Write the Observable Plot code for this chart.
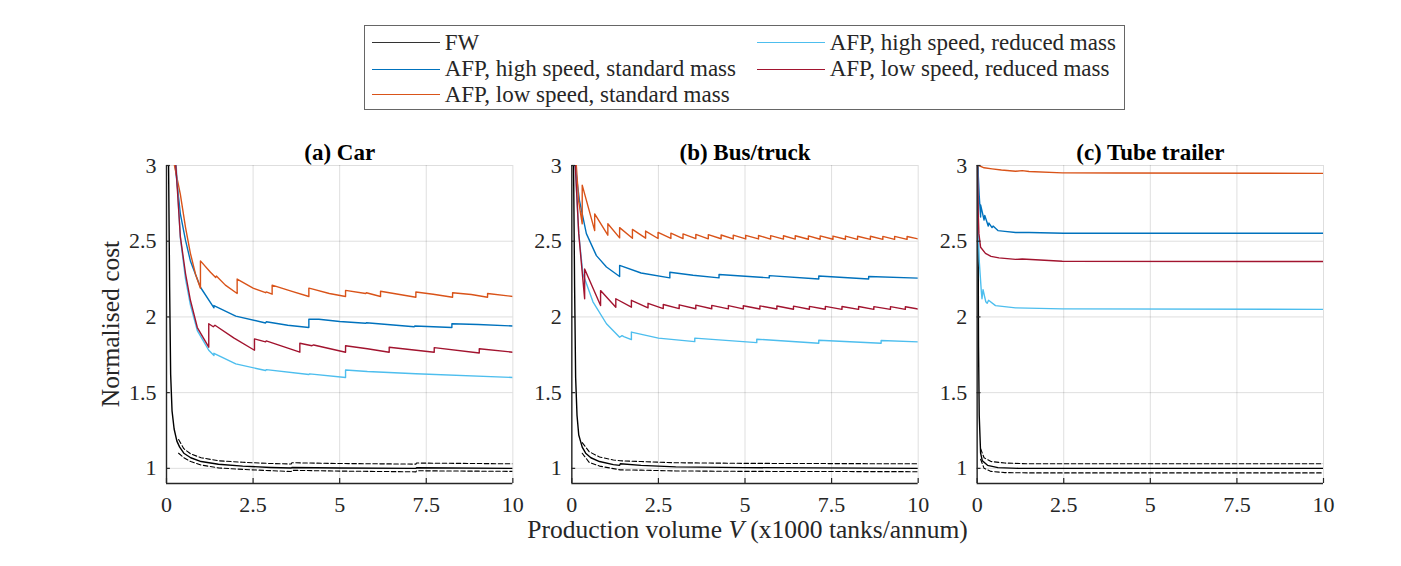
<!DOCTYPE html>
<html><head><meta charset="utf-8">
<script src="https://cdn.jsdelivr.net/npm/d3@7"></script>
<script src="https://cdn.jsdelivr.net/npm/@observablehq/plot@0.6"></script>
<style>
body{margin:0;background:#fff;}
#wrap{position:relative;width:1401px;height:566px;font-family:"Liberation Serif","Times New Roman",serif;color:#262626;}
#wrap svg{position:absolute;left:0;top:0;}
#legend{position:absolute;left:364px;top:25px;width:761px;height:85px;border:1.3px solid #666;box-sizing:border-box;background:#fff;font-size:23px;font-family:"Liberation Serif","Times New Roman",serif;}
.item{position:absolute;display:flex;align-items:center;height:26px;white-space:nowrap;}
.item .sw{width:68px;height:0;border-top:1.4px solid;margin-right:5px;}
#ylab{position:absolute;left:111px;top:323.5px;transform:translate(-50%,-50%) rotate(-90deg);font-size:25.5px;line-height:1;white-space:nowrap;}
#xlab{position:absolute;left:747.5px;top:530px;transform:translate(-50%,-50%);font-size:25.5px;line-height:1;white-space:nowrap;}
</style>
</head><body>
<div id="wrap"></div>
<script>
// ---- categories / series ----
const panels = ["(a) Car", "(b) Bus/truck", "(c) Tube trailer"];
const seriesNames = ["FW", "AFP, high speed, standard mass", "AFP, low speed, standard mass", "AFP, high speed, reduced mass", "AFP, low speed, reduced mass"];
const seriesColors = ["#000000", "#0072BD", "#D95319", "#4DBEEE", "#A2142F"];
const xTicks = [0, 2.5, 5, 7.5, 10];
const yTicks = [1, 1.5, 2, 2.5, 3];

// ---- (a) Car : [V (x1000), normalised cost] ----
const carFW = [[0.06,3],[0.09,2.2],[0.12,1.62],[0.16,1.38],[0.22,1.26],[0.3,1.18],[0.38,1.14],[0.5,1.10],[0.7,1.07],[1.0,1.045],[1.5,1.027],[2.2,1.015],[3.0,1.006],[3.6,1.002],[3.62,1.006],[5,1.002],[7.2,1.0],[7.22,1.004],[10,1.0]];
const carFWUpper = [[0.35,1.19],[0.5,1.13],[0.7,1.095],[1.0,1.07],[1.5,1.05],[2.2,1.04],[3.0,1.032],[3.6,1.029],[3.62,1.037],[5,1.032],[7.2,1.028],[7.22,1.035],[10,1.03]];
const carFWLower = [[0.35,1.10],[0.5,1.07],[0.7,1.045],[1.0,1.022],[1.5,1.003],[2.2,0.993],[3.0,0.985],[3.6,0.979],[3.62,0.987],[5,0.982],[7.2,0.977],[7.22,0.984],[10,0.98]];
const carHighStd = [[0.25,3],[0.4,2.68],[0.55,2.505],[0.69,2.37],[0.98,2.196],[1.37,2.06],[1.37,2.075],[2.0,2.005],[2.86,1.96],[2.88,1.968],[3.5,1.945],[4.11,1.93],[4.11,1.985],[4.4,1.985],[5.0,1.97],[5.75,1.958],[5.77,1.962],[7.15,1.935],[7.17,1.94],[8.24,1.93],[8.24,1.955],[9.0,1.95],[10,1.94]];
const carLowStd = [[0.23,3],[0.4,2.81],[0.55,2.59],[0.69,2.42],[0.84,2.28],[0.98,2.19],[0.98,2.37],[1.27,2.295],[1.42,2.26],[1.44,2.27],[1.7,2.21],[2.04,2.155],[2.04,2.25],[2.5,2.19],[2.86,2.16],[2.88,2.165],[3.05,2.15],[3.05,2.21],[3.6,2.17],[4.11,2.135],[4.11,2.19],[4.2,2.185],[4.7,2.155],[5.17,2.135],[5.17,2.175],[5.75,2.155],[5.77,2.16],[6.18,2.135],[6.18,2.17],[7.2,2.13],[7.2,2.165],[7.7,2.15],[8.26,2.13],[8.26,2.16],[8.8,2.148],[9.27,2.13],[9.27,2.155],[10,2.135]];
const carHighRed = [[0.28,3],[0.4,2.52],[0.55,2.25],[0.69,2.08],[0.89,1.91],[1.22,1.78],[1.37,1.745],[1.37,1.76],[2.0,1.69],[2.86,1.646],[2.88,1.652],[4.11,1.62],[4.13,1.624],[5.17,1.60],[5.17,1.65],[5.8,1.64],[7.2,1.625],[10,1.60]];
const carLowRed = [[0.27,3],[0.4,2.53],[0.55,2.285],[0.69,2.11],[0.89,1.93],[1.22,1.80],[1.22,1.955],[1.35,1.935],[1.4,1.945],[1.94,1.862],[2.54,1.78],[2.54,1.855],[2.86,1.835],[2.88,1.842],[3.85,1.767],[3.85,1.826],[4.2,1.81],[4.25,1.815],[5.17,1.767],[5.17,1.81],[5.8,1.79],[6.43,1.767],[6.43,1.80],[7.73,1.767],[7.73,1.797],[9.03,1.762],[9.03,1.79],[10,1.767]];

// ---- (b) Bus/truck ----
const busFW = [[0.05,3],[0.08,2.2],[0.11,1.6],[0.15,1.35],[0.2,1.22],[0.3,1.14],[0.4,1.1],[0.55,1.07],[0.8,1.045],[1.2,1.025],[1.38,1.02],[1.4,1.03],[2,1.02],[3,1.01],[5,1.005],[10,1.0]];
const busFWUpper = [[0.3,1.17],[0.5,1.11],[0.8,1.075],[1.2,1.055],[1.4,1.05],[2,1.045],[3,1.037],[5,1.033],[10,1.03]];
const busFWLower = [[0.3,1.1],[0.5,1.04],[0.8,1.015],[1.2,0.998],[1.4,0.99],[2,0.988],[3,0.983],[5,0.98],[10,0.978]];
const busHighStd = [[0.1,3],[0.16,2.88],[0.22,2.77],[0.42,2.55],[0.71,2.405],[1.0,2.33],[1.38,2.267],[1.38,2.34],[2.0,2.29],[2.83,2.258],[2.83,2.295],[3.5,2.275],[4.25,2.258],[4.25,2.28],[5.7,2.258],[5.7,2.273],[7.13,2.25],[7.13,2.27],[8.57,2.25],[8.57,2.267],[10,2.256]];
const busLowStd = [[0.13,3],[0.2,2.76],[0.30,2.615],[0.30,2.87],[0.66,2.57],[0.66,2.68],[1.04,2.54],[1.04,2.615],[1.38,2.522],[1.38,2.59],[1.75,2.52],[1.75,2.578],[2.13,2.52],[2.13,2.567],[2.49,2.518],[2.49,2.558],[2.86,2.518],[2.86,2.553],[3.21,2.517],[3.21,2.548],[3.58,2.517],[3.58,2.545],[3.94,2.516],[3.94,2.543],[4.31,2.516],[4.31,2.541],[4.66,2.515],[4.66,2.54],[5.02,2.515],[5.02,2.539],[5.39,2.515],[5.39,2.538],[5.74,2.514],[5.74,2.537],[6.11,2.514],[6.11,2.536],[6.45,2.514],[6.45,2.536],[6.83,2.513],[6.83,2.535],[7.17,2.513],[7.17,2.535],[7.54,2.513],[7.54,2.534],[7.90,2.513],[7.90,2.534],[8.25,2.512],[8.25,2.533],[8.62,2.512],[8.62,2.533],[8.98,2.512],[8.98,2.532],[9.32,2.512],[9.32,2.532],[9.68,2.512],[9.68,2.531],[10,2.515]];
const busHighRed = [[0.1,3],[0.2,2.55],[0.32,2.285],[0.61,2.10],[1.0,1.955],[1.38,1.866],[1.45,1.876],[1.5,1.87],[1.72,1.85],[1.72,1.90],[2.5,1.86],[3.55,1.837],[3.55,1.86],[5.34,1.83],[5.34,1.853],[7.13,1.826],[7.13,1.846],[8.93,1.826],[8.93,1.844],[10,1.835]];
const busLowRed = [[0.1,3],[0.2,2.55],[0.27,2.37],[0.37,2.12],[0.37,2.317],[0.83,2.075],[0.83,2.174],[1.27,2.064],[1.27,2.12],[1.72,2.064],[1.72,2.11],[2.2,2.06],[2.2,2.09],[2.64,2.055],[2.64,2.082],[3.10,2.055],[3.10,2.08],[3.58,2.054],[3.58,2.078],[4.04,2.054],[4.04,2.076],[4.52,2.053],[4.52,2.075],[4.95,2.053],[4.95,2.074],[5.43,2.052],[5.43,2.073],[5.92,2.052],[5.92,2.072],[6.40,2.051],[6.40,2.071],[6.86,2.051],[6.86,2.07],[7.32,2.051],[7.32,2.07],[7.80,2.05],[7.80,2.069],[8.28,2.05],[8.28,2.069],[8.72,2.05],[8.72,2.068],[9.20,2.05],[9.20,2.068],[9.63,2.05],[9.63,2.067],[10,2.052]];

// ---- (c) Tube trailer ----
const tubeFW = [[0.02,3],[0.04,1.8],[0.06,1.35],[0.1,1.1],[0.15,1.05],[0.3,1.02],[0.6,1.005],[1.2,1.0],[10,1.0]];
const tubeFWUpper = [[0.1,1.13],[0.2,1.07],[0.4,1.045],[0.8,1.035],[1.5,1.03],[10,1.03]];
const tubeFWLower = [[0.1,1.06],[0.2,1.0],[0.4,0.98],[0.8,0.972],[1.5,0.97],[10,0.97]];
const tubeHighStd = [[0.02,3],[0.06,2.8],[0.1,2.66],[0.1,2.74],[0.2,2.64],[0.22,2.67],[0.32,2.6],[0.34,2.62],[0.43,2.59],[0.46,2.6],[0.6,2.57],[0.8,2.565],[1.11,2.558],[1.5,2.558],[2.5,2.553],[10,2.553]];
const tubeLowStd = [[0.05,3],[0.2,2.985],[0.43,2.978],[0.7,2.97],[1.11,2.962],[1.3,2.966],[1.5,2.96],[2.46,2.951],[4,2.95],[10,2.948]];
const tubeHighRed = [[0.01,3],[0.03,2.6],[0.06,2.37],[0.12,2.17],[0.14,2.12],[0.17,2.18],[0.25,2.1],[0.29,2.09],[0.33,2.11],[0.53,2.075],[1.11,2.06],[2.46,2.053],[10,2.05]];
const tubeLowRed = [[0.01,3],[0.03,2.7],[0.05,2.55],[0.1,2.46],[0.24,2.42],[0.4,2.40],[0.63,2.39],[1.11,2.38],[1.3,2.383],[2.46,2.368],[10,2.366]];

// ---- build tables ----
const rows = [];
const bounds = [];
function add(panel, series, pts) { for (const [x, y] of pts) rows.push({panel, series, x, y}); }
function addBound(panel, bound, pts) { for (const [x, y] of pts) bounds.push({panel, bound, x, y}); }
add(panels[0], seriesNames[0], carFW); add(panels[0], seriesNames[1], carHighStd); add(panels[0], seriesNames[2], carLowStd); add(panels[0], seriesNames[3], carHighRed); add(panels[0], seriesNames[4], carLowRed);
add(panels[1], seriesNames[0], busFW); add(panels[1], seriesNames[1], busHighStd); add(panels[1], seriesNames[2], busLowStd); add(panels[1], seriesNames[3], busHighRed); add(panels[1], seriesNames[4], busLowRed);
add(panels[2], seriesNames[0], tubeFW); add(panels[2], seriesNames[1], tubeHighStd); add(panels[2], seriesNames[2], tubeLowStd); add(panels[2], seriesNames[3], tubeHighRed); add(panels[2], seriesNames[4], tubeLowRed);
addBound(panels[0], "upper", carFWUpper); addBound(panels[0], "lower", carFWLower);
addBound(panels[1], "upper", busFWUpper); addBound(panels[1], "lower", busFWLower);
addBound(panels[2], "upper", tubeFWUpper); addBound(panels[2], "lower", tubeFWLower);

const axisColor = "#262626";
const chart = Plot.plot({
  width: 1401, height: 566,
  marginLeft: 166, marginRight: 78, marginTop: 165, marginBottom: 83,
  style: {fontFamily: "'Liberation Serif', 'Times New Roman', serif", fontSize: "22px", background: "transparent", color: axisColor, overflow: "visible"},
  fx: {domain: panels, paddingInner: 0.1455, paddingOuter: 0, round: false, axis: null},
  x: {domain: [0, 10]},
  y: {domain: [0.9, 3]},
  color: {domain: seriesNames, range: seriesColors},
  marks: [
    Plot.gridX(xTicks, {stroke: "#000", strokeOpacity: 0.13, strokeWidth: 1}),
    Plot.gridY(yTicks, {stroke: "#000", strokeOpacity: 0.13, strokeWidth: 1}),
    Plot.line(bounds, {x: "x", y: "y", z: "bound", fx: "panel", stroke: "#000", strokeWidth: 1.1, strokeDasharray: "4.5,2.5", clip: true}),
    Plot.line(rows, {x: "x", y: "y", z: "series", stroke: "series", fx: "panel", strokeWidth: 1.4, clip: true}),
    Plot.ruleX([0], {stroke: axisColor, strokeWidth: 1.4}),
    Plot.ruleY([0.9], {stroke: axisColor, strokeWidth: 1.4}),
    Plot.tickX(xTicks, {x: d => d, insetTop: 313, stroke: axisColor, strokeWidth: 1.2}),
    Plot.tickY(yTicks, {y: d => d, insetRight: 342.5, stroke: axisColor, strokeWidth: 1.2}),
    Plot.axisX(xTicks, {tickSize: 0, tickPadding: 13, fontSize: 22, label: null, tickFormat: d => String(d)}),
    Plot.axisY(yTicks, {tickSize: 0, tickPadding: 10, fontSize: 22, label: null, facetAnchor: null, tickFormat: d => String(d)}),
    Plot.text(panels, {fx: d => d, text: d => d, frameAnchor: "top", dy: -6, lineAnchor: "bottom", fontWeight: "bold", fontSize: 23, fill: "#000"})
  ]
});
const wrap = document.getElementById("wrap");
wrap.appendChild(chart);

// legend
const legend = document.createElement("div");
legend.id = "legend";
const legendPos = [[6.7, 3.7], [6.7, 30.2], [6.7, 55.7], [391.7, 3.7], [391.7, 30.2]];
const legendOrder = [0, 1, 2, 3, 4];
legendOrder.forEach((si, i) => {
  const it = document.createElement("div");
  it.className = "item";
  it.style.left = legendPos[i][0] + "px";
  it.style.top = legendPos[i][1] + "px";
  const sw = document.createElement("span");
  sw.className = "sw";
  sw.style.borderTopColor = si === 0 ? "#333" : seriesColors[si];
  const tx = document.createElement("span");
  tx.textContent = seriesNames[si];
  it.appendChild(sw); it.appendChild(tx);
  legend.appendChild(it);
});
wrap.appendChild(legend);

const ylab = document.createElement("div");
ylab.id = "ylab"; ylab.textContent = "Normalised cost";
wrap.appendChild(ylab);
const xlab = document.createElement("div");
xlab.id = "xlab"; xlab.innerHTML = "Production volume <i>V</i> (x1000 tanks/annum)";
wrap.appendChild(xlab);
</script>
</body></html>
